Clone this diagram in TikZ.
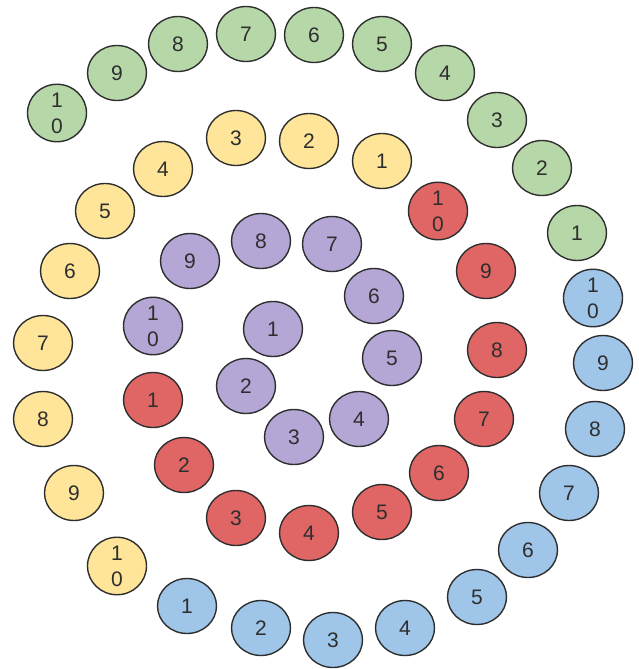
\documentclass[tikz,border=0pt]{standalone}
\usepackage{fontspec}
\setmainfont{Liberation Sans}
\usetikzlibrary{shapes.geometric}
\definecolor{cgreen}{HTML}{B6D7A8}
\definecolor{cyellow}{HTML}{FFE599}
\definecolor{cred}{HTML}{E06666}
\definecolor{cpurple}{HTML}{B4A7D6}
\definecolor{cblue}{HTML}{9FC5E8}
\definecolor{cline}{HTML}{2E2E2E}
\tikzset{
  ball/.style={ellipse, draw=cline, line width=1.4pt, minimum width=59pt, minimum height=55pt,
    inner sep=0pt, align=center, text=cline, font=\fontsize{21}{26}\selectfont},
  gball/.style={ball, fill=cgreen},
  yball/.style={ball, fill=cyellow},
  rball/.style={ball, fill=cred},
  pball/.style={ball, fill=cpurple},
  bball/.style={ball, fill=cblue}
}
\begin{document}
\begin{tikzpicture}[x=1pt,y=-1pt]
\useasboundingbox[fill=white] (0,0) rectangle (638,669);
% green
\node[gball] (g1) at (577,233) {1};
\node[gball] (g2) at (542,168) {2};
\node[gball] (g3) at (497,120) {3};
\node[gball] (g4) at (445,73) {4};
\node[gball] (g5) at (382,44) {5};
\node[gball] (g6) at (314,35) {6};
\node[gball] (g7) at (246,34) {7};
\node[gball] (g8) at (178,44) {8};
\node[gball] (g9) at (117,73) {9};
\node[gball] (g10) at (57,113) {1\\0};
% yellow
\node[yball] (y1) at (382,161) {1};
\node[yball] (y2) at (309,141) {2};
\node[yball] (y3) at (236,138) {3};
\node[yball] (y4) at (163,169) {4};
\node[yball] (y5) at (105,211) {5};
\node[yball] (y6) at (70,271) {6};
\node[yball] (y7) at (43,343) {7};
\node[yball] (y8) at (43,419) {8};
\node[yball] (y9) at (74,493) {9};
\node[yball] (y10) at (117,566) {1\\0};
% red
\node[rball] (r1) at (153,400) {1};
\node[rball] (r2) at (184,465) {2};
\node[rball] (r3) at (236,518) {3};
\node[rball] (r4) at (309,533) {4};
\node[rball] (r5) at (382,512) {5};
\node[rball] (r6) at (439,473) {6};
\node[rball] (r7) at (484,419) {7};
\node[rball] (r8) at (497,350) {8};
\node[rball] (r9) at (486,271) {9};
\node[rball] (r10) at (438,211) {1\\0};
% purple
\node[pball] (p1) at (273,329) {1};
\node[pball] (p2) at (246,386) {2};
\node[pball] (p3) at (294,437) {3};
\node[pball] (p4) at (359,419) {4};
\node[pball] (p5) at (392,358) {5};
\node[pball] (p6) at (374,296) {6};
\node[pball] (p7) at (332,244) {7};
\node[pball] (p8) at (261,241) {8};
\node[pball] (p9) at (190,261) {9};
\node[pball] (p10) at (153,326) {1\\0};
% blue
\node[bball] (b1) at (187,606) {1};
\node[bball] (b2) at (261,628) {2};
\node[bball] (b3) at (333,640) {3};
\node[bball] (b4) at (405,628) {4};
\node[bball] (b5) at (477,597) {5};
\node[bball] (b6) at (528,550) {6};
\node[bball] (b7) at (569,493) {7};
\node[bball] (b8) at (595,429) {8};
\node[bball] (b9) at (603,363) {9};
\node[bball] (b10) at (593,298) {1\\0};
\end{tikzpicture}
\end{document}
